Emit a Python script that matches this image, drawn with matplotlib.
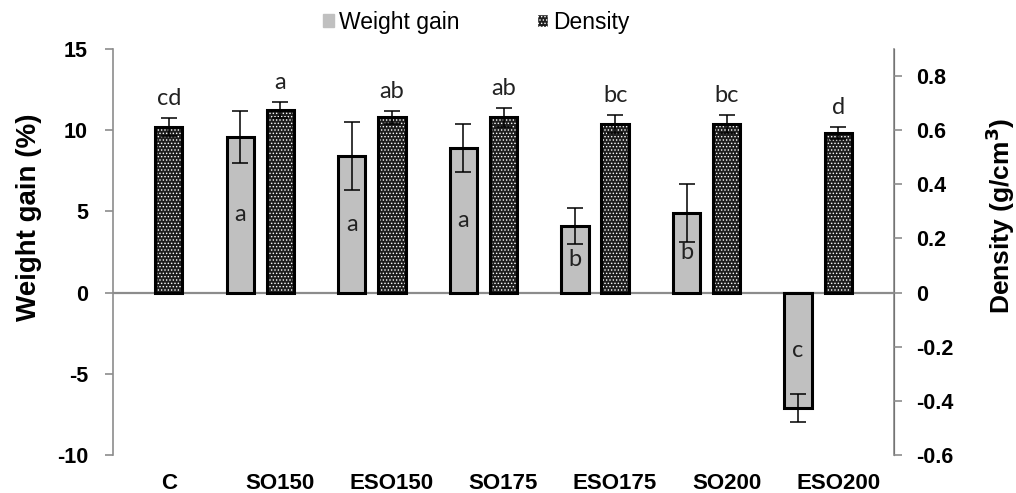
import matplotlib

matplotlib.use("Agg")
import matplotlib.pyplot as plt
from matplotlib.patches import Patch
from matplotlib.ticker import FuncFormatter
import numpy as np

plt.rcParams["font.family"] = ["Liberation Sans", "DejaVu Sans"]
plt.rcParams["hatch.linewidth"] = 0.6
plt.rcParams["axes.unicode_minus"] = False

# ---- data ----
treatments = ["C", "SO150", "ESO150", "SO175", "ESO175", "SO200", "ESO200"]
weight_gain = [None, 9.6, 8.4, 8.9, 4.1, 4.9, -7.1]
weight_err = [None, 1.6, 2.1, 1.5, 1.1, 1.8, 0.85]
weight_letters = ["", "a", "a", "a", "b", "b", "c"]
density = [0.611, 0.674, 0.647, 0.648, 0.622, 0.622, 0.589]
density_err = [0.033, 0.030, 0.025, 0.035, 0.033, 0.033, 0.022]
density_letters = ["cd", "a", "ab", "ab", "bc", "bc", "d"]

GREY = "#c0c0c0"
DARK = "#1e1e1e"
AXCOL = "#8c8c8c"
BW = 0.245
OFF = 0.36
LETTER_FONT = ["Lato", "DejaVu Sans"]

fig = plt.figure(figsize=(10.16, 4.93), dpi=100)
ax = fig.add_axes([0.1112, 0.0771, 0.7688, 0.8235])
ax2 = ax.twinx()

x = np.arange(len(treatments))

# weight gain bars (left axis), skip the control with no value
idx = [i for i, v in enumerate(weight_gain) if v is not None]
wx = x[idx] - OFF
wv = [weight_gain[i] for i in idx]
we = [weight_err[i] for i in idx]
ax.bar(wx, wv, width=BW, color=GREY, edgecolor="black", linewidth=2.2, zorder=2)
ax.errorbar(wx, wv, yerr=we, fmt="none", ecolor="black", elinewidth=1.1, capsize=6, capthick=1.1, zorder=3)
for xi, v, i in zip(wx, wv, idx):
    ax.text(xi, v / 2, weight_letters[i], ha="center", va="center", fontsize=17,
            family=LETTER_FONT, color="#222222", zorder=4)

ax.axhline(0, color=AXCOL, lw=1.6, zorder=1)

# density bars (right axis): dotted fill then black outline
ax2.bar(x, density, width=BW, color=DARK, edgecolor="white", linewidth=0, hatch=".....", zorder=2)
ax2.bar(x, density, width=BW, fill=False, edgecolor="black", linewidth=2.2, zorder=3)
ax2.errorbar(x, density, yerr=density_err, fmt="none", ecolor="black", elinewidth=1.1, capsize=6, capthick=1.1, zorder=4)
for xi, v, e, lab in zip(x, density, density_err, density_letters):
    ax2.text(xi, v + e + 0.072, lab, ha="center", va="center", fontsize=17,
             family=LETTER_FONT, color="#222222")

# axes styling
ax.set_xlim(-0.5, len(treatments) - 0.5)
ax.set_ylim(-10, 15)
ax2.set_ylim(-0.6, 0.9)
ax.set_yticks([-10, -5, 0, 5, 10, 15])
ax2.set_yticks([-0.6, -0.4, -0.2, 0, 0.2, 0.4, 0.6, 0.8])
ax2.yaxis.set_major_formatter(FuncFormatter(lambda v, p: "0" if abs(v) < 1e-9 else f"{v:.1f}"))

ax.set_xticks(x)
ax.set_xticklabels(treatments, fontsize=16, fontweight="bold")
ax.tick_params(axis="x", length=0, pad=13)

for a in (ax, ax2):
    for s in ("top", "bottom"):
        a.spines[s].set_visible(False)
    a.tick_params(axis="y", colors=AXCOL, length=6, width=1.2, labelsize=15.5, labelcolor="black")
    for lab in a.get_yticklabels():
        lab.set_fontweight("bold")
ax.spines["left"].set_color(AXCOL)
ax.spines["left"].set_linewidth(1.2)
ax2.spines["right"].set_color(AXCOL)
ax2.spines["right"].set_linewidth(1.2)
ax2.spines["left"].set_visible(False)
ax.tick_params(axis="y", pad=12)
ax2.tick_params(axis="y", pad=10)

ax.set_ylabel("Weight gain (%)", fontsize=20, fontweight="bold")
ax2.set_ylabel("Density (g/cm$^\\mathbf{3}$)", fontsize=19, fontweight="bold")
ax.yaxis.set_label_coords(-0.091, 0.586)
ax2.yaxis.set_label_coords(1.114, 0.59)

handles = [
    Patch(facecolor=GREY, edgecolor=GREY, label="Weight gain"),
    Patch(facecolor=DARK, edgecolor="white", hatch=".....", label="Density"),
]
fig.legend(handles=handles, loc="center", bbox_to_anchor=(476 / 1016, 0.955), ncol=2,
           frameon=False, fontsize=16.5, handlelength=0.5, handleheight=0.5,
           handletextpad=0.2, columnspacing=3.4)

fig.savefig("out.png", dpi=100)
